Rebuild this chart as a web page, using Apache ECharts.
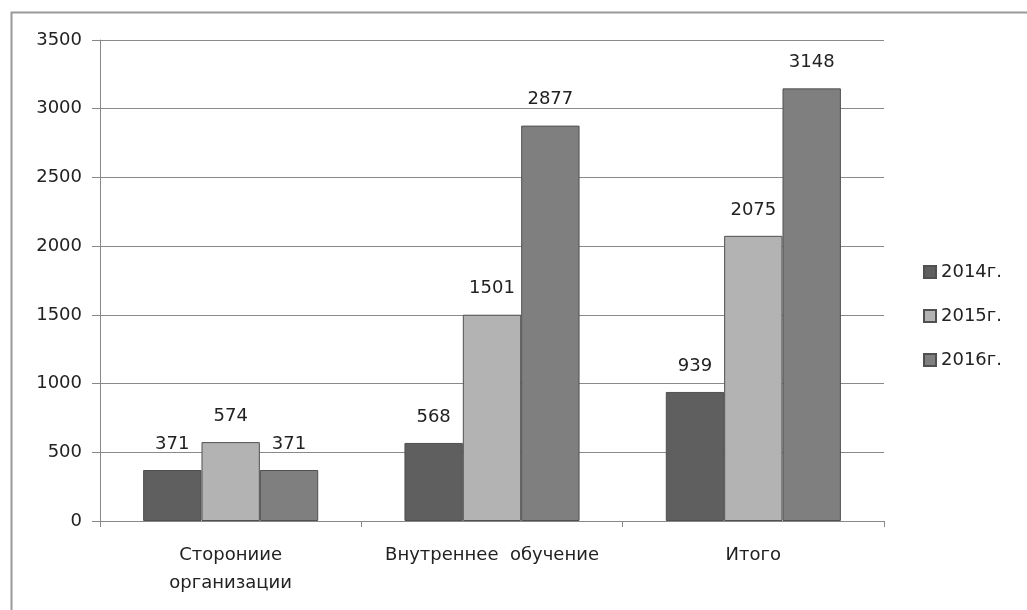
<!DOCTYPE html>
<html>
<head>
<meta charset="utf-8">
<script src="https://cdn.jsdelivr.net/npm/echarts@6/dist/echarts.min.js"></script>
<style>
  html, body { margin: 0; padding: 0; background: #fff; }
  #chart { width: 1027px; height: 610px; }
</style>
</head>
<body>
<div id="chart"></div>
<script>
// categories and values
const categories = ['Сторониие\nорганизации', 'Внутреннее  обучение', 'Итого']
const years = ['2014г.', '2015г.', '2016г.']
const values2014 = [371, 568, 939]
const values2015 = [574, 1501, 2075]
const values2016 = [371, 2877, 3148]
const colors = ['#5f5f5f', '#b3b3b3', '#7f7f7f']

const font = 'DejaVu Sans, Verdana, sans-serif'

const chart = echarts.init(document.getElementById('chart'))

const makeSeries = (name, data, i) => ({
  name: name,
  type: 'bar',
  data: data,
  barGap: '0%',
  barCategoryGap: '33%',
  itemStyle: { color: colors[i], borderColor: '#505050', borderWidth: 1 },
  label: {
    show: true,
    position: 'top',
    distance: 17,
    fontFamily: font,
    fontSize: 18,
    color: '#222'
  }
})

chart.setOption({
  animation: false,
  backgroundColor: '#fff',
  graphic: [{
    type: 'rect',
    left: 9,
    top: 10,
    shape: { width: 1100, height: 700 },
    style: { fill: 'none', stroke: '#9a9a9a', lineWidth: 2 },
    silent: true
  }],
  grid: { left: 100, right: 143, top: 40, bottom: 89 },
  legend: {
    orient: 'vertical',
    left: 918,
    top: 258,
    itemWidth: 12,
    itemHeight: 12,
    itemGap: 26,
    icon: 'rect',
    textStyle: { fontFamily: font, fontSize: 18, color: '#222' },
    data: years
  },
  xAxis: {
    type: 'category',
    data: categories,
    axisLine: { lineStyle: { color: '#888' } },
    axisTick: { show: true, interval: 0, length: 6, lineStyle: { color: '#888' } },
    axisLabel: {
      interval: 0,
      fontFamily: font,
      fontSize: 18,
      color: '#222',
      margin: 20,
      lineHeight: 28
    }
  },
  yAxis: {
    type: 'value',
    min: 0,
    max: 3500,
    interval: 500,
    axisLine: { show: true, lineStyle: { color: '#888' } },
    axisTick: { show: true, length: 8, lineStyle: { color: '#888' } },
    axisLabel: {
      fontFamily: font,
      fontSize: 18,
      color: '#222',
      margin: 18,
      formatter: v => String(v)
    },
    splitLine: { lineStyle: { color: '#8a8a8a', width: 1 } }
  },
  series: [
    makeSeries(years[0], values2014, 0),
    makeSeries(years[1], values2015, 1),
    makeSeries(years[2], values2016, 2)
  ]
})
</script>
</body>
</html>
